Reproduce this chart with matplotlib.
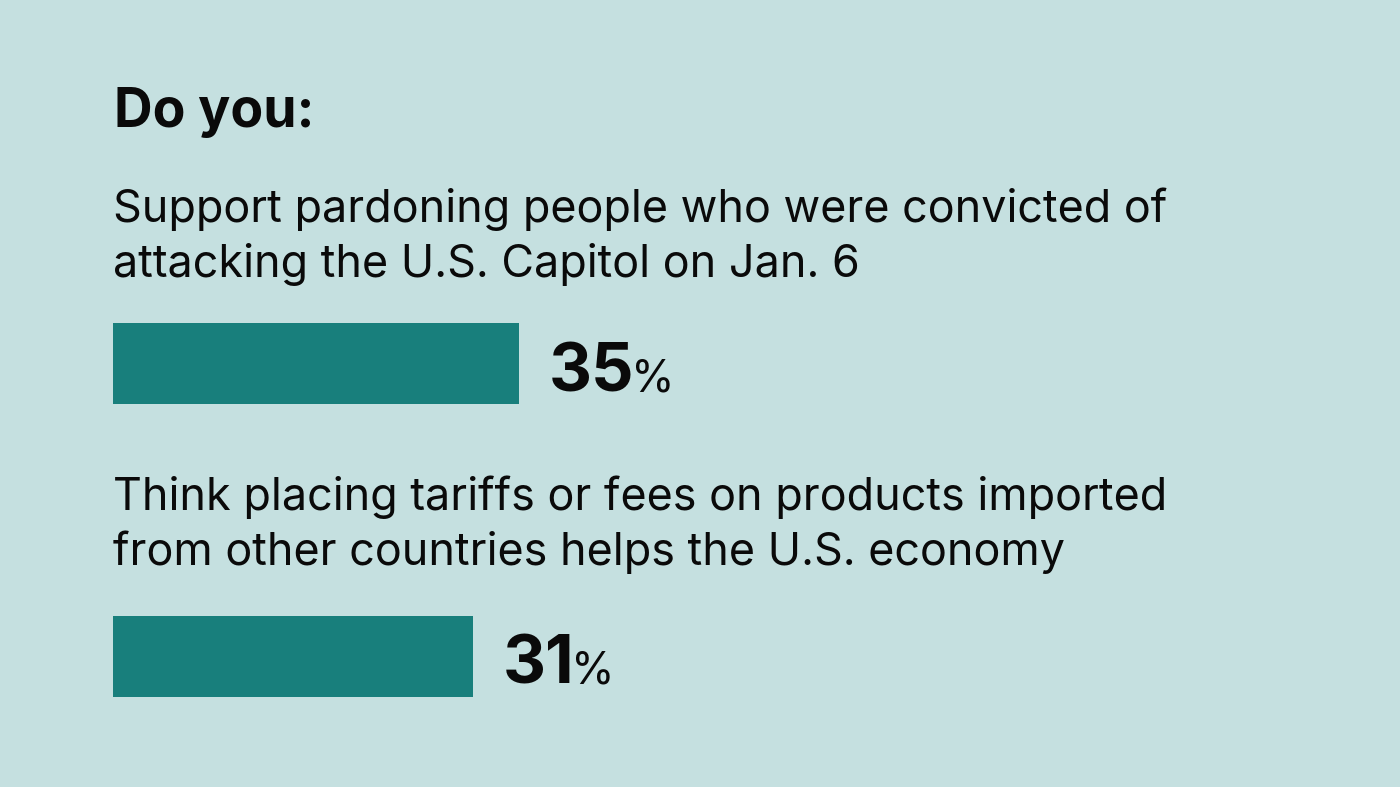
import matplotlib
matplotlib.use("Agg")
import matplotlib.pyplot as plt

# Data
title = "Do you:"
questions = [
    ["Support pardoning people who were convicted of",
     "attacking the U.S. Capitol on Jan. 6"],
    ["Think placing tariffs or fees on products imported",
     "from other countries helps the U.S. economy"],
]
values = [35, 31]

BG = "#c5e0e0"
BAR = "#187f7c"
FONT = ["Inter", "DejaVu Sans"]

W, H = 1400, 787
fig = plt.figure(figsize=(W / 100, H / 100), dpi=100, facecolor=BG)

def fx(x):
    return x / W

def fy(y):
    return 1 - y / H

# axes: x in percent (100% = 1160 px), y in pixel rows (inverted)
ax = fig.add_axes([fx(113), 0, 1160 / W, 1])
ax.set_xlim(0, 100)
ax.set_ylim(H, 0)
ax.axis("off")
ax.set_facecolor("none")

bar_centers = [363.5, 656.5]
bar_h = 81
q_baselines = [222, 510]
lead = 55

fig.text(fx(114), fy(127), title, fontsize=38.5, fontweight="bold",
         family=FONT, va="baseline", ha="left", color="#0a0a0a")

ax.barh(bar_centers, values, height=bar_h, color=BAR, left=0)

fig.canvas.draw()
r = fig.canvas.get_renderer()

for lines, base, v, yc in zip(questions, q_baselines, values, bar_centers):
    for i, line in enumerate(lines):
        fig.text(fx(113), fy(base + i * lead), line, fontsize=32.3, family=FONT,
                 va="baseline", ha="left", color="#0a0a0a")
    # number label
    t = ax.annotate(f"{v}", xy=(v, yc + 27.5), xytext=(30, 0),
                    textcoords="offset pixels", fontsize=48, fontweight="bold",
                    family=FONT, va="baseline", ha="left", color="#0a0a0a")
    fig.canvas.draw()
    bb = t.get_window_extent(r)
    fig.text(bb.x1 / W - 3 / W, fy(yc + 27.5), "%", fontsize=32, family=FONT,
             va="baseline", ha="left", color="#0a0a0a")

fig.savefig("out.png", dpi=100, facecolor=BG)
